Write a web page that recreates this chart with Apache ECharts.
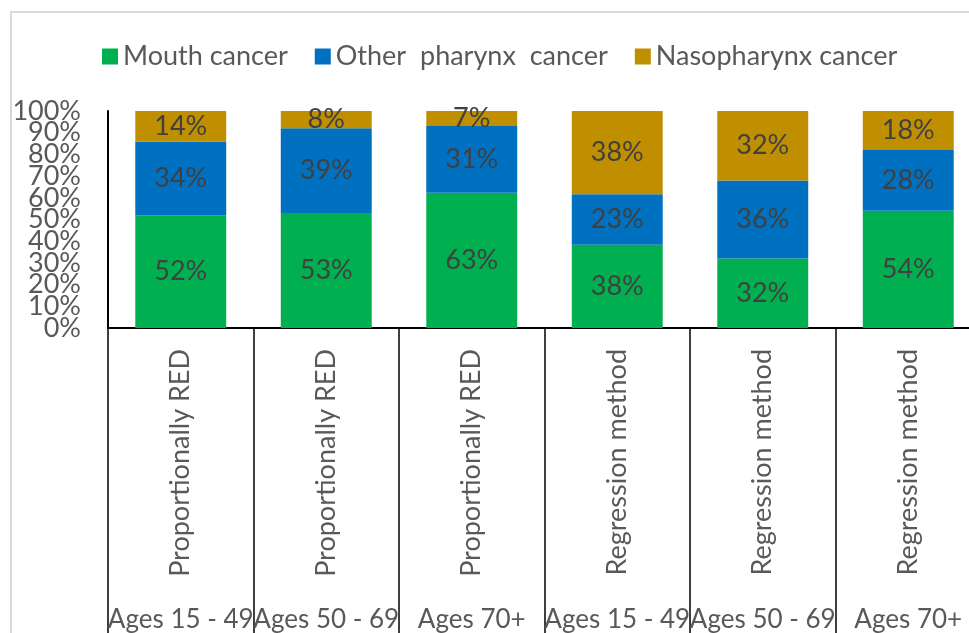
<!DOCTYPE html>
<html>
<head>
<meta charset="utf-8">
<script src="https://cdn.jsdelivr.net/npm/echarts@6/dist/echarts.min.js"></script>
<style>
  html, body { margin: 0; padding: 0; background: #fff; overflow: hidden; }
  /* the chart area runs a little past the right edge of the window */
  #chart { width: 1000px; height: 633px; }
</style>
</head>
<body>
<div id="chart"></div>
<script>
// Method and age-group labels for the two-level category axis
const methods = ['Proportionally RED', 'Proportionally RED', 'Proportionally RED',
                 'Regression method', 'Regression method', 'Regression method'];
const ages = ['Ages 15 - 49', 'Ages 50 - 69', 'Ages 70+', 'Ages 15 - 49', 'Ages 50 - 69', 'Ages 70+'];

// Percent shares per cancer site (as printed on the bars)
const mouth = [52, 53, 63, 38, 32, 54];
const otherPharynx = [34, 39, 31, 23, 36, 28];
const nasopharynx = [14, 8, 7, 38, 32, 18];

const yTicks = [0, 10, 20, 30, 40, 50, 60, 70, 80, 90, 100];
const yEnds = [0, 100];

const seriesDefs = [
  { name: 'Mouth cancer', values: mouth, color: '#00B050' },
  { name: 'Other  pharynx  cancer', values: otherPharynx, color: '#0070C0' },
  { name: 'Nasopharynx cancer', values: nasopharynx, color: '#BF8F00' }
];

// 100% stacking: each column is scaled to its own total
const totals = mouth.map((v, i) => v + otherPharynx[i] + nasopharynx[i]);

const FONT = 'Lato';
const yLabelStyle = { margin: 27, fontFamily: FONT, fontSize: 27, color: '#595959' };

const chart = echarts.init(document.getElementById('chart'), null, { renderer: 'canvas' });

chart.setOption({
  animation: false,
  backgroundColor: '#ffffff',
  textStyle: { fontFamily: FONT },
  graphic: [{
    type: 'rect',
    shape: { x: 11, y: 12, width: 1000, height: 660 },
    style: { fill: 'none', stroke: '#d9d9d9', lineWidth: 2 },
    silent: true
  }],
  legend: {
    top: 38,
    left: 97,
    itemWidth: 16,
    itemHeight: 16,
    itemGap: 27,
    icon: 'rect',
    textStyle: { fontFamily: FONT, fontSize: 27, color: '#595959' },
    data: seriesDefs.map(s => s.name)
  },
  grid: { left: 108, top: 111, width: 873, height: 217, containLabel: false },
  xAxis: [
    {
      type: 'category',
      data: methods,
      position: 'bottom',
      boundaryGap: true,
      axisLine: { show: true, lineStyle: { color: '#000', width: 2 } },
      axisTick: { show: true, interval: 0, length: 310, lineStyle: { color: '#000', width: 1.5 } },
      axisLabel: {
        interval: 0, rotate: 90, margin: 21,
        fontFamily: FONT, fontSize: 27, color: '#595959'
      }
    },
    {
      type: 'category',
      data: ages,
      position: 'bottom',
      offset: 272,
      axisLine: { show: false },
      axisTick: { show: false },
      axisLabel: {
        interval: 0, margin: 7,
        fontFamily: FONT, fontSize: 26, color: '#595959'
      }
    }
  ],
  yAxis: [
    {
      // main value axis: line plus the inner tick labels 10%–90%
      type: 'value',
      min: 0,
      max: 100,
      interval: 10,
      position: 'left',
      axisLine: { show: true, lineStyle: { color: '#000', width: 2 } },
      axisTick: { show: false },
      splitLine: { show: false },
      axisLabel: Object.assign({
        showMinLabel: false,
        showMaxLabel: false,
        formatter: v => (yTicks.includes(v) ? v + '%' : '')
      }, yLabelStyle)
    },
    {
      // companion axis carrying the 0% and 100% end labels
      type: 'value',
      min: 0,
      max: 100,
      interval: 10,
      position: 'left',
      axisLine: { show: false },
      axisTick: { show: false },
      splitLine: { show: false },
      axisLabel: Object.assign({
        showMinLabel: true,
        showMaxLabel: true,
        formatter: v => (yEnds.includes(v) ? v + '%' : '')
      }, yLabelStyle)
    }
  ],
  series: seriesDefs.map(s => ({
    name: s.name,
    type: 'bar',
    stack: 'share',
    xAxisIndex: 0,
    yAxisIndex: 0,
    barWidth: '62.5%',
    itemStyle: { color: s.color },
    data: s.values.map((v, i) => ({ value: v / totals[i] * 100, raw: v })),
    label: {
      show: true,
      position: 'inside',
      fontFamily: FONT,
      fontSize: 27,
      color: '#404040',
      formatter: p => p.data.raw + '%'
    }
  }))
});
</script>
</body>
</html>
